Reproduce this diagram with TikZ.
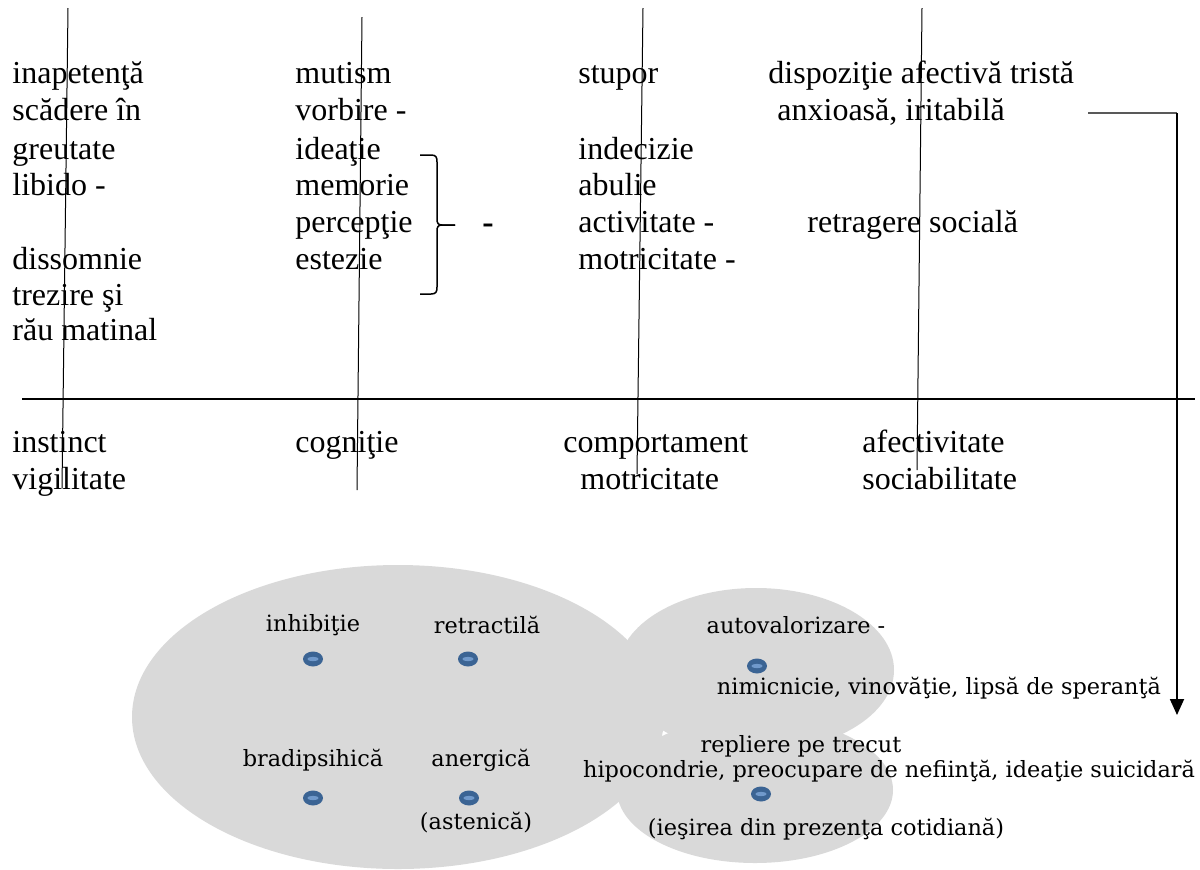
\documentclass[tikz,border=0pt]{standalone}
\usepackage{fontspec}
\setmainfont{Liberation Serif}
\newfontfamily\ovalfont{DejaVu Serif}
\usetikzlibrary{shapes.geometric,arrows.meta}

\definecolor{ovalgray}{HTML}{D9D9D9}
\definecolor{dotblue}{HTML}{3B6494}
\definecolor{dotlight}{HTML}{7099CB}

\tikzset{
	coltext/.style={anchor=base west, inner sep=0pt, font=\fontsize{16}{18.4}\selectfont},
	ovaltext/.style={anchor=center, inner sep=0pt, font=\ovalfont\fontsize{11.2}{13}\selectfont},
	bluedot/.style={ellipse, fill=dotblue, minimum width=10pt, minimum height=7.5pt, inner sep=0pt,
		path picture={\fill[dotlight] (path picture bounding box.center) ellipse (2.8pt and 1.1pt);}},
}

\begin{document}
\begin{tikzpicture}[x=0.5pt, y=-0.5pt]
	\useasboundingbox (0,0) rectangle (1200,869);
	% grey ovals
	\fill[ovalgray] (398,717) ellipse (266 and 152);
	\fill[ovalgray] (756,670) ellipse (138 and 82);
	\fill[ovalgray] (755,790) ellipse (138 and 73);
	% top columns
	\foreach \y/\txt [count=\i] in {83/inapetenţă, 120/scădere în, 159/greutate, 195/libido -,
		269/dissomnie, 305/trezire şi, 340/rău matinal}
		\node[coltext] (col1-\i) at (12,\y) {\txt};
	\foreach \y/\txt [count=\i] in {83/mutism, 120/vorbire -, 159/ideaţie, 195/memorie,
		232/percepţie, 269/estezie}
		\node[coltext] (col2-\i) at (295,\y) {\txt};
	\foreach \y/\txt [count=\i] in {83/stupor, 159/indecizie, 195/abulie, 232/activitate -,
		269/motricitate -}
		\node[coltext] (col3-\i) at (578,\y) {\txt};
	\node[coltext] (dispo) at (768,83) {dispoziţie afectivă tristă};
	\node[coltext] (anx) at (777,120) {anxioasă, iritabilă};
	\node[coltext] (retrag) at (807,232) {retragere socială};
	% brace and dash
	\draw[line width=0.75pt] (420,155) -- (431,155) .. controls (436,155) and (437,157) .. (437,162)
		-- (437,219) .. controls (437,223) and (438,225) .. (442,225) -- (455,225);
	\draw[line width=0.75pt] (455,225) -- (442,225) .. controls (438,225) and (437,227) .. (437,231)
		-- (437,287) .. controls (437,292) and (436,294) .. (431,294) -- (420,294);
	\node[font=\bfseries\fontsize{17}{18}\selectfont, inner sep=0pt, anchor=base] (dash) at (488,233) {-};
	% axis and labels
	\draw[line width=0.8pt] (22,399) -- (1195,399);
	\node[coltext] (instinct) at (12,452) {instinct};
	\node[coltext] (vigil) at (12,489) {vigilitate};
	\node[coltext] (cogn) at (295,452) {cogniţie};
	\node[coltext] (comport) at (563,452) {comportament};
	\node[coltext] (motric) at (580,489) {motricitate};
	\node[coltext] (afect) at (862,452) {afectivitate};
	\node[coltext] (sociab) at (862,489) {sociabilitate};
	% slanted lines
	\draw[line width=0.5pt] (68,8) -- (62,488);
	\draw[line width=0.5pt] (362,17) -- (357,490);
	\draw[line width=0.5pt] (643,8) -- (637,474);
	\draw[line width=0.5pt] (922,8) -- (917,470);
	% arrow down to the ovals
	\coordinate (arrS) at (1088,113);
	\coordinate (arrT) at (1177,715);
	\draw[gray!70!black, line width=0.6pt] (arrS) -- (arrS -| arrT);
	\draw[line width=0.9pt, -{Triangle[length=8pt, width=7pt]}] (arrS -| arrT) -- (arrT);
	% oval labels and dots
	\node[ovaltext] (inhib) at (313,625) {inhibiţie};
	\node[ovaltext] (retract) at (487,625) {retractilă};
	\node[ovaltext] (autoval) at (796,625) {autovalorizare -};
	\node[ovaltext] (nimic) at (939,688) {nimicnicie, vinovăţie, lipsă de speranţă};
	\node[ovaltext] (bradi) at (313,760) {bradipsihică};
	\node[ovaltext] (anerg) at (481,760) {anergică};
	\node[ovaltext] (asten) at (476,823) {(astenică)};
	\node[ovaltext] (repl) at (801,746) {repliere pe trecut};
	\node[ovaltext] (hipoc) at (889,771) {hipocondrie, preocupare de nefiinţă, ideaţie suicidară};
	\node[ovaltext] (iesire) at (826,829) {(ieşirea din prezenţa cotidiană)};
	\node[bluedot] (d1) at (313,659) {};
	\node[bluedot] (d2) at (468,659) {};
	\node[bluedot] (d3) at (757,666) {};
	\node[bluedot] (d4) at (313,798) {};
	\node[bluedot] (d5) at (469,798) {};
	\node[bluedot] (d6) at (761,794) {};
\end{tikzpicture}
\end{document}
